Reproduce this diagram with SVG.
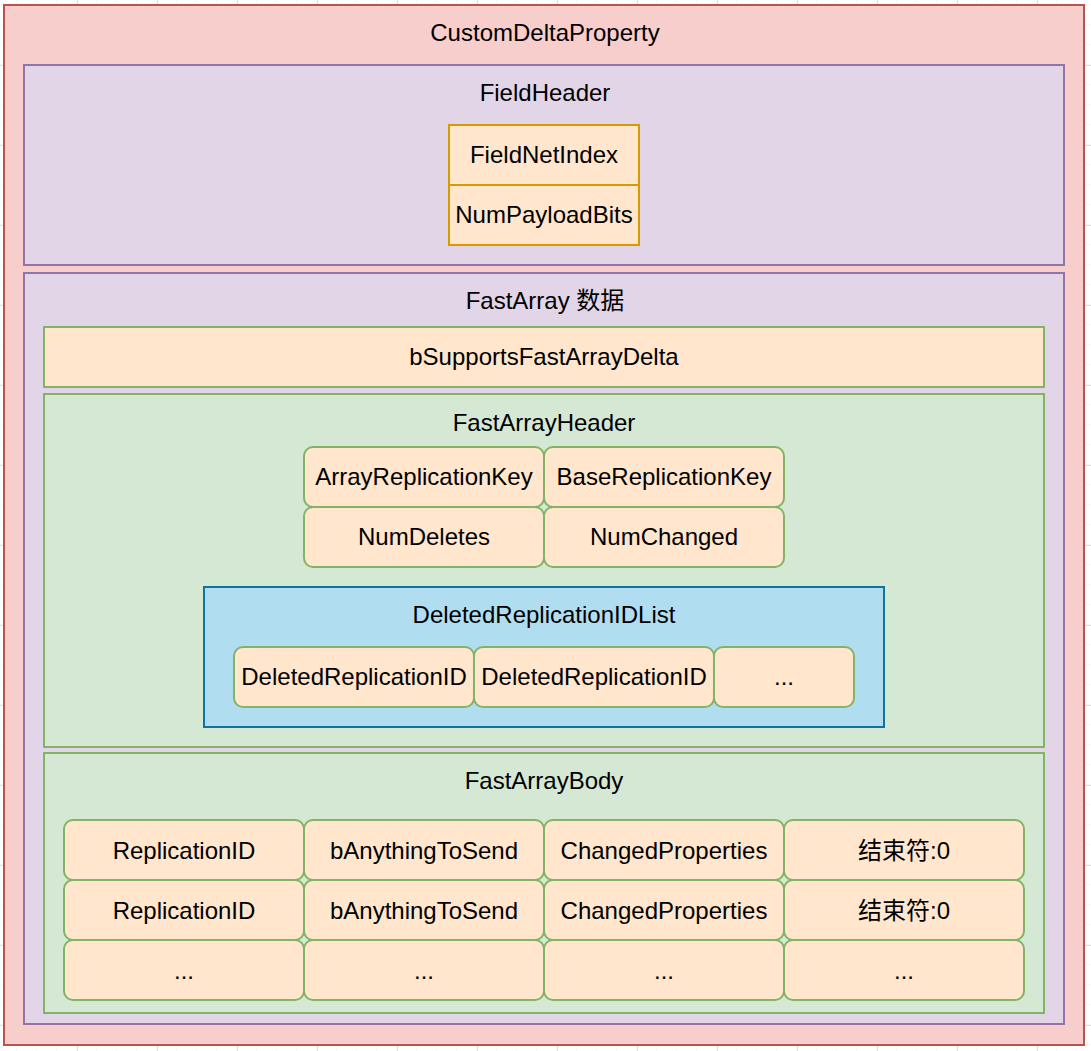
<svg xmlns="http://www.w3.org/2000/svg" width="1091" height="1051" viewBox="0 0 1091 1051">
<defs>
<pattern id="minor" x="17" y="5" width="20" height="20" patternUnits="userSpaceOnUse"><path d="M20 0V20M0 20H20" fill="none" stroke="#f0f0f0" stroke-width="1"/></pattern>
<pattern id="major" x="77" y="65" width="80" height="80" patternUnits="userSpaceOnUse"><path d="M0.5 0V80M0 0.5H80" fill="none" stroke="#e0e0e0" stroke-width="1"/></pattern>
<style>
text{font-family:"Liberation Sans",Arial,"Noto Sans CJK SC",sans-serif;font-size:24px;fill:#000;text-anchor:middle}
.outer{fill:#f8cecc;stroke:#b85450;stroke-width:2}
.purple{fill:#e1d5e7;stroke:#9673a6;stroke-width:2}
.orange{fill:#ffe6cc;stroke:#d79b00;stroke-width:2}
.green{fill:#d5e8d4;stroke:#82b366;stroke-width:2}
.cell{fill:#ffe6cc;stroke:#82b366;stroke-width:2}
.blue{fill:#b1ddf0;stroke:#10739e;stroke-width:2}
</style>
</defs>
<rect width="1091" height="1051" fill="#ffffff"/>
<rect width="1091" height="1051" fill="url(#minor)"/>
<rect width="1091" height="1051" fill="url(#major)"/>

<g id="CustomDeltaProperty">
<rect class="outer" x="4" y="5" width="1080" height="1040"/>
<text x="545" y="41">CustomDeltaProperty</text>
</g>

<g id="FieldHeader">
<rect class="purple" x="24" y="65" width="1040" height="200"/>
<text x="545" y="101">FieldHeader</text>
</g>
<g id="FieldNetIndex">
<rect class="orange" x="449" y="125" width="190" height="60"/>
<text x="544" y="163">FieldNetIndex</text>
</g>
<g id="NumPayloadBits">
<rect class="orange" x="449" y="185" width="190" height="60"/>
<text x="544" y="223">NumPayloadBits</text>
</g>

<g id="FastArray">
<rect class="purple" x="24" y="273" width="1040" height="751"/>
<text x="545" y="309">FastArray 数据</text>
</g>
<g id="bSupportsFastArrayDelta">
<rect class="cell" x="44" y="327" width="1000" height="60"/>
<text x="544" y="365">bSupportsFastArrayDelta</text>
</g>

<g id="FastArrayHeader">
<rect class="green" x="44" y="394" width="1000" height="353"/>
<text x="544" y="431">FastArrayHeader</text>
</g>
<g id="ArrayReplicationKey">
<rect class="cell" x="304" y="447" width="240" height="60" rx="9"/>
<text x="424" y="485">ArrayReplicationKey</text>
</g>
<g id="BaseReplicationKey">
<rect class="cell" x="544" y="447" width="240" height="60" rx="9"/>
<text x="664" y="485">BaseReplicationKey</text>
</g>
<g id="NumDeletes">
<rect class="cell" x="304" y="507" width="240" height="60" rx="9"/>
<text x="424" y="545">NumDeletes</text>
</g>
<g id="NumChanged">
<rect class="cell" x="544" y="507" width="240" height="60" rx="9"/>
<text x="664" y="545">NumChanged</text>
</g>

<g id="DeletedReplicationIDList">
<rect class="blue" x="204" y="587" width="680" height="140"/>
<text x="544" y="623">DeletedReplicationIDList</text>
</g>
<g id="DeletedReplicationID1">
<rect class="cell" x="234" y="647" width="240" height="60" rx="9"/>
<text x="354" y="685">DeletedReplicationID</text>
</g>
<g id="DeletedReplicationID2">
<rect class="cell" x="474" y="647" width="240" height="60" rx="9"/>
<text x="594" y="685">DeletedReplicationID</text>
</g>
<g id="DeletedMore">
<rect class="cell" x="714" y="647" width="140" height="60" rx="9"/>
<text x="784" y="685">...</text>
</g>

<g id="FastArrayBody">
<rect class="green" x="44" y="753" width="1000" height="260"/>
<text x="544" y="789">FastArrayBody</text>
</g>
<g id="Row1">
<g id="ReplicationID1"><rect class="cell" x="64" y="820" width="240" height="60" rx="9"/><text x="184" y="859">ReplicationID</text></g>
<g id="bAnythingToSend1"><rect class="cell" x="304" y="820" width="240" height="60" rx="9"/><text x="424" y="859">bAnythingToSend</text></g>
<g id="ChangedProperties1"><rect class="cell" x="544" y="820" width="240" height="60" rx="9"/><text x="664" y="859">ChangedProperties</text></g>
<g id="End1"><rect class="cell" x="784" y="820" width="240" height="60" rx="9"/><text x="904" y="859">结束符:0</text></g>
</g>
<g id="Row2">
<g id="ReplicationID2"><rect class="cell" x="64" y="880" width="240" height="60" rx="9"/><text x="184" y="919">ReplicationID</text></g>
<g id="bAnythingToSend2"><rect class="cell" x="304" y="880" width="240" height="60" rx="9"/><text x="424" y="919">bAnythingToSend</text></g>
<g id="ChangedProperties2"><rect class="cell" x="544" y="880" width="240" height="60" rx="9"/><text x="664" y="919">ChangedProperties</text></g>
<g id="End2"><rect class="cell" x="784" y="880" width="240" height="60" rx="9"/><text x="904" y="919">结束符:0</text></g>
</g>
<g id="Row3">
<g id="More1"><rect class="cell" x="64" y="940" width="240" height="60" rx="9"/><text x="184" y="979">...</text></g>
<g id="More2"><rect class="cell" x="304" y="940" width="240" height="60" rx="9"/><text x="424" y="979">...</text></g>
<g id="More3"><rect class="cell" x="544" y="940" width="240" height="60" rx="9"/><text x="664" y="979">...</text></g>
<g id="More4"><rect class="cell" x="784" y="940" width="240" height="60" rx="9"/><text x="904" y="979">...</text></g>
</g>

<g id="connectors"></g>
</svg>
